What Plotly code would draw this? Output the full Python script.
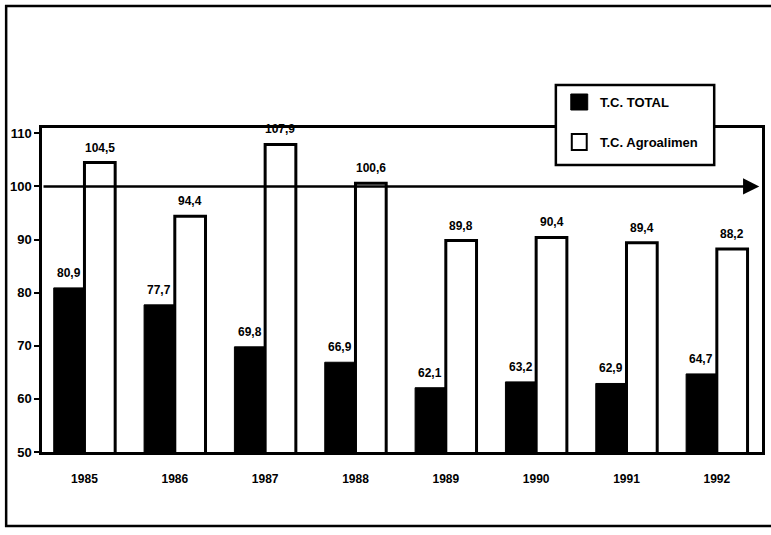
import plotly.graph_objects as go

# Terms-of-trade indices by year
years = ["1985", "1986", "1987", "1988", "1989", "1990", "1991", "1992"]
tc_total = [80.9, 77.7, 69.8, 66.9, 62.1, 63.2, 62.9, 64.7]
tc_agro = [104.5, 94.4, 107.9, 100.6, 89.8, 90.4, 89.4, 88.2]
y_ticks = [50, 60, 70, 80, 90, 100, 110]
series_names = ["T.C. TOTAL", "T.C. Agroalimen"]

FONT = "Liberation Sans, Arial, sans-serif"
idx = list(range(len(years)))

# plot-area geometry in pixels (used to convert legend/border positions to paper units)
W, H = 771, 535
L, R, T, B = 42, 6, 128, 83
PW, PH = W - L - R, H - T - B


def px_x(p):
    return (p - L) / PW


def px_y(p):
    return (H - B - p) / PH


fig = go.Figure()
fig.add_trace(go.Bar(
    x=idx, y=tc_total, name=series_names[0],
    marker=dict(color="black", line=dict(color="black", width=1)),
    showlegend=False,
))
fig.add_trace(go.Bar(
    x=idx, y=tc_agro, name=series_names[1],
    marker=dict(color="white", line=dict(color="black", width=3)),
    showlegend=False,
))

annotations = []
half = 0.17
for i, (a, b) in enumerate(zip(tc_total, tc_agro)):
    for xv, v in ((i - half, a), (i + half, b)):
        annotations.append(dict(
            x=xv, y=v, xref="x", yref="y", yshift=15,
            text=f"{v:.1f}".replace(".", ","), showarrow=False,
            font=dict(family=FONT, size=12, color="black", weight="bold"),
        ))

# reference arrow at index 100
annotations.append(dict(
    x=7.47, y=100, ax=-0.47, ay=100, xref="x", yref="y", axref="x", ayref="y",
    text="", showarrow=True, arrowhead=2, arrowsize=1.3, arrowwidth=2.5,
    arrowcolor="black", standoff=0,
))

# legend labels
leg_x0, leg_x1, leg_y0, leg_y1 = 558, 717, 85, 165
for name, cy in zip(series_names, (102, 142)):
    annotations.append(dict(
        x=px_x(600), y=px_y(cy), xref="paper", yref="paper",
        xanchor="left", yanchor="middle", text=name, showarrow=False,
        font=dict(family=FONT, size=13, color="black", weight="bold"),
    ))

shapes = [
    # outer page border
    dict(type="rect", xref="paper", yref="paper", layer="above",
         x0=px_x(6), x1=px_x(790), y0=px_y(526), y1=px_y(6),
         line=dict(color="black", width=2.5)),
    # legend box
    dict(type="rect", xref="paper", yref="paper", layer="above",
         x0=px_x(leg_x0), x1=px_x(leg_x1), y0=px_y(leg_y1), y1=px_y(leg_y0),
         fillcolor="white", line=dict(color="black", width=2.5)),
    # legend swatches
    dict(type="rect", xref="paper", yref="paper", layer="above",
         x0=px_x(573), x1=px_x(590), y0=px_y(110), y1=px_y(94),
         fillcolor="black", line=dict(color="black", width=1)),
    dict(type="rect", xref="paper", yref="paper", layer="above",
         x0=px_x(574), x1=px_x(589), y0=px_y(150), y1=px_y(134),
         fillcolor="white", line=dict(color="black", width=2)),
]

fig.update_layout(
    width=W, height=H,
    margin=dict(l=L, r=R, t=T, b=B),
    paper_bgcolor="white", plot_bgcolor="white",
    barmode="group", bargap=0.32, bargroupgap=0,
    font=dict(family=FONT, color="black"),
    annotations=annotations, shapes=shapes,
    xaxis=dict(
        range=[-0.47, 7.50], tickvals=idx, ticktext=years,
        showline=True, linecolor="black", linewidth=2.5, mirror=True,
        ticks="", showgrid=False, zeroline=False, ticklabelstandoff=14,
        tickfont=dict(family=FONT, size=12, color="black", weight="bold"),
    ),
    yaxis=dict(
        range=[50, 111], tickvals=y_ticks,
        showline=True, linecolor="black", linewidth=2.5, mirror=True,
        ticks="outside", ticklen=5, tickwidth=2, tickcolor="black",
        showgrid=False, zeroline=False,
        tickfont=dict(family=FONT, size=13, color="black", weight="bold"),
    ),
)

fig.write_html("out.html")
